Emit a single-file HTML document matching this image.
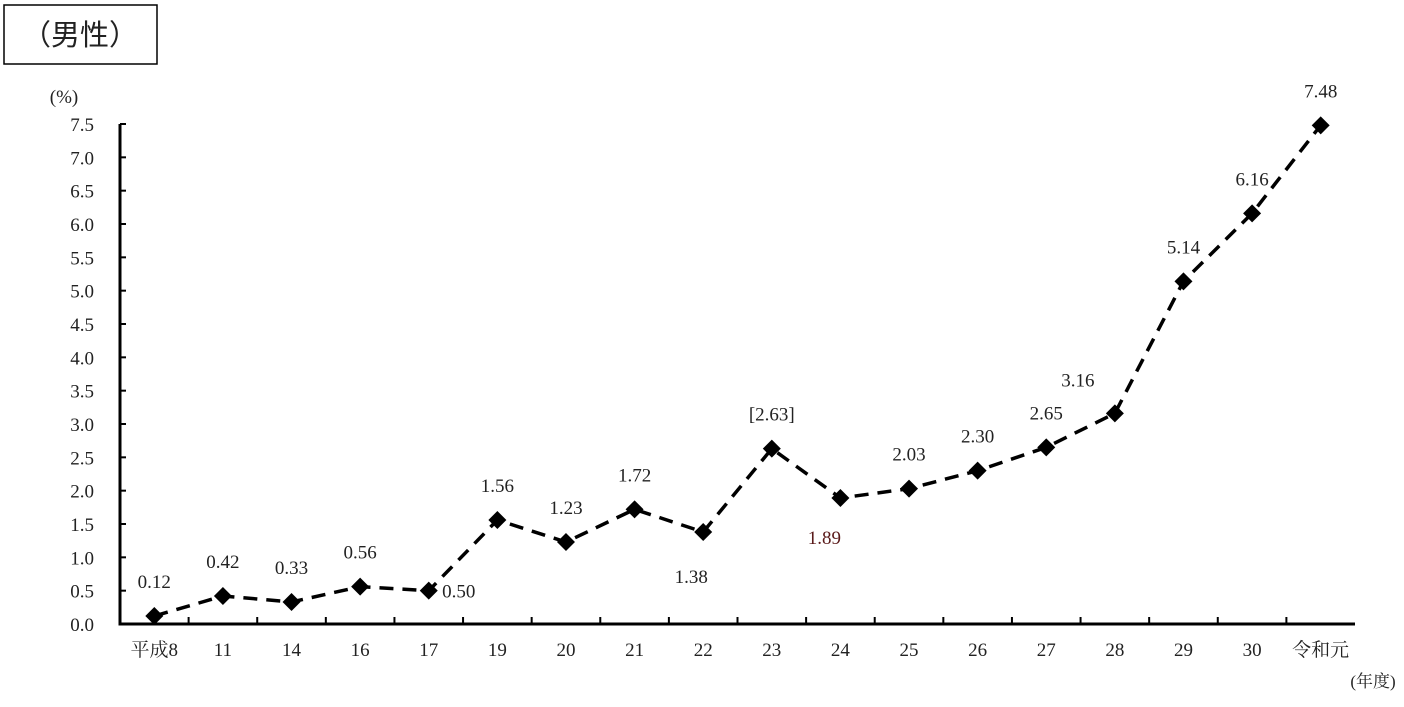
<!DOCTYPE html>
<html><head><meta charset="utf-8"><style>
body{margin:0;background:#fff;width:1404px;height:702px;overflow:hidden}
svg text{font-family:"Liberation Serif","Noto Serif CJK SC",serif;fill:#222}
</style></head><body>
<svg width="1404" height="702">
<rect x="4" y="5" width="153" height="59" fill="none" stroke="#000" stroke-width="1.5"/>
<text x="80" y="45" text-anchor="middle" font-size="29" style="font-family:'Noto Sans CJK JP',sans-serif">（男性）</text>
<text x="64" y="103" text-anchor="middle" font-size="19">(%)</text>
<text x="1373" y="687" text-anchor="middle" font-size="17">(年度)</text>
<g id="axes"></g><g id="marks"></g>
</svg>
<script>
const categories=["平成8","11","14","16","17","19","20","21","22","23","24","25","26","27","28","29","30","令和元"];
const values=[0.12,0.42,0.33,0.56,0.50,1.56,1.23,1.72,1.38,2.63,1.89,2.03,2.30,2.65,3.16,5.14,6.16,7.48];
const valueLabels=["0.12","0.42","0.33","0.56","0.50","1.56","1.23","1.72","1.38","[2.63]","1.89","2.03","2.30","2.65","3.16","5.14","6.16","7.48"];
const yTicks=[0,0.5,1,1.5,2,2.5,3,3.5,4,4.5,5,5.5,6,6.5,7,7.5];
const NS="http://www.w3.org/2000/svg";
const x0=120,x1=1355,y0=624,yTop=124,yMax=7.5;
const band=(x1-x0)/categories.length;
const X=i=>x0+band*(i+0.5);
const Y=v=>y0-(v/yMax)*(y0-yTop);
function mk(t,a,p){const e=document.createElementNS(NS,t);for(const k in a)e.setAttribute(k,a[k]);p.appendChild(e);return e;}
const ax=document.getElementById('axes'),mg=document.getElementById('marks');
let e=mk('line',{x1:x0,y1:Y(yMax),x2:x0,y2:y0+1.5,stroke:'#000','stroke-width':3},ax);

e=mk('line',{x1:x0-1.5,y1:y0,x2:x1,y2:y0,stroke:'#000','stroke-width':3},ax);

yTicks.forEach(v=>{
 let t=mk('line',{x1:x0,y1:Y(v),x2:x0+6,y2:Y(v),stroke:'#000','stroke-width':2},ax);
 
 let l=mk('text',{x:94,y:Y(v)+7,'text-anchor':'end','font-size':19},ax);l.textContent=v.toFixed(1);
 
});
categories.forEach((c,i)=>{
 if(i>0){let t=mk('line',{x1:x0+band*i,y1:y0,x2:x0+band*i,y2:y0-7,stroke:'#000','stroke-width':2},ax);
 }
 let l=mk('text',{x:X(i),y:656,'text-anchor':'middle','font-size':19},ax);l.textContent=c;
 
});
const pts=values.map((v,i)=>X(i)+','+Y(v)).join(' ');
e=mk('polyline',{points:pts,fill:'none',stroke:'#000','stroke-width':3.5,'stroke-dasharray':'14 9'},mg);

const off={4:[30,7],8:[-12,51],10:[-16,46],14:[-37,-27]};
values.forEach((v,i)=>{
 const cx=X(i),cy=Y(v);
 let d=mk('path',{d:`M${cx} ${cy-9}L${cx+9} ${cy}L${cx} ${cy+9}L${cx-9} ${cy}Z`,fill:'#000'},mg);
 
 const o=off[i]||[0,-28];
 let l=mk('text',{x:cx+o[0],y:cy+o[1],'text-anchor':'middle','font-size':19},mg);l.textContent=valueLabels[i];
 if(i===10)l.setAttribute('style','fill:#5a1a1a');
 
});
</script>
</body></html>
